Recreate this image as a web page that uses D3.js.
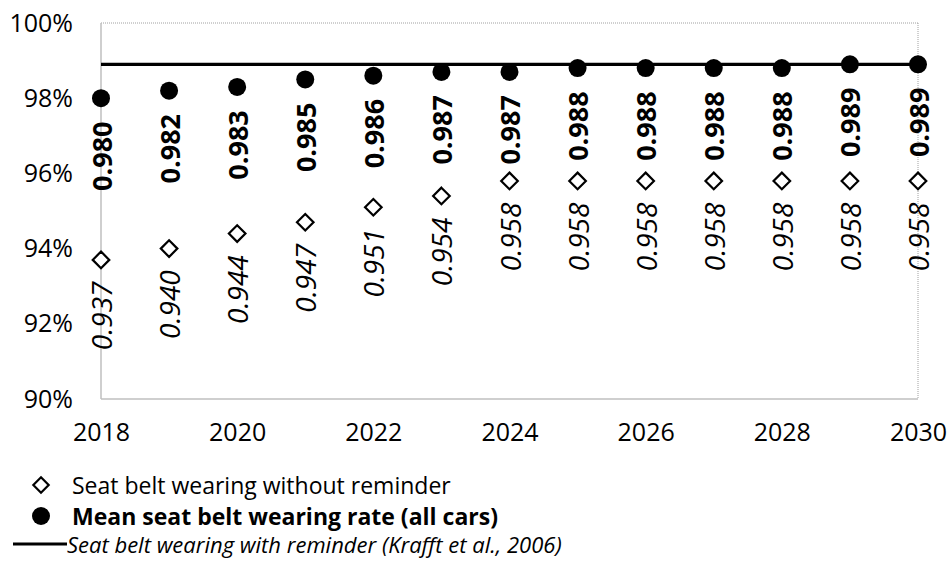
<!DOCTYPE html>
<html>
<head>
<meta charset="utf-8">
<script src="https://cdn.jsdelivr.net/npm/d3@7"></script>
<style>
  body { margin: 0; background: #fff; }
  text { font-family: "Open Sans", sans-serif; fill: #000; }
</style>
</head>
<body>
<div id="chart"></div>
<script>
var width = 949, height = 564;

var years = [2018, 2019, 2020, 2021, 2022, 2023, 2024, 2025, 2026, 2027, 2028, 2029, 2030];
var meanRate = [0.980, 0.982, 0.983, 0.985, 0.986, 0.987, 0.987, 0.988, 0.988, 0.988, 0.988, 0.989, 0.989];
var withoutReminder = [0.937, 0.940, 0.944, 0.947, 0.951, 0.954, 0.958, 0.958, 0.958, 0.958, 0.958, 0.958, 0.958];
var withReminder = 0.989;
var yTicks = [0.90, 0.92, 0.94, 0.96, 0.98, 1.00];
var xTicks = [2018, 2020, 2022, 2024, 2026, 2028, 2030];
var legendLabels = [
  "Seat belt wearing without reminder",
  "Mean seat belt wearing rate (all cars)",
  "Seat belt wearing with reminder (Krafft et al., 2006)"
];

var svg = d3.select("#chart")
  .append("svg")
  .attr("width", width)
  .attr("height", height);

var x = d3.scaleLinear().domain([2018, 2030]).range([101, 918]);
var y = d3.scaleLinear().domain([0.90, 1.00]).range([399, 23]);

// frame: dotted top/right, solid grey left/bottom
svg.append("line")
  .attr("x1", x(2018)).attr("x2", x(2030))
  .attr("y1", y(1)).attr("y2", y(1))
  .attr("stroke", "#a0a0a0").attr("stroke-dasharray", "1,1");
svg.append("line")
  .attr("x1", x(2030)).attr("x2", x(2030))
  .attr("y1", y(1)).attr("y2", y(0.9))
  .attr("stroke", "#a0a0a0").attr("stroke-dasharray", "1,1");
svg.append("line")
  .attr("x1", x(2018)).attr("x2", x(2018))
  .attr("y1", y(1)).attr("y2", y(0.9))
  .attr("stroke", "#bfbfbf").attr("stroke-width", 1.5);
svg.append("line")
  .attr("x1", x(2018)).attr("x2", x(2030))
  .attr("y1", y(0.9)).attr("y2", y(0.9))
  .attr("stroke", "#bfbfbf").attr("stroke-width", 1.5);

// y axis labels
var yAxis = d3.axisLeft(y).tickValues(yTicks).tickFormat(d3.format(".0%")).tickSize(0).tickPadding(28);
svg.append("g")
  .attr("transform", "translate(" + x(2018) + ",0)")
  .call(yAxis)
  .call(function(g) { g.select(".domain").remove(); })
  .selectAll("text")
  .style("font-family", "'Open Sans', sans-serif")
  .style("font-size", "25px")
  .attr("fill", "#000");

// x axis labels
var xAxis = d3.axisBottom(x).tickValues(xTicks).tickFormat(d3.format("d")).tickSize(0).tickPadding(24);
svg.append("g")
  .attr("transform", "translate(0," + y(0.9) + ")")
  .call(xAxis)
  .call(function(g) { g.select(".domain").remove(); })
  .selectAll("text")
  .style("font-family", "'Open Sans', sans-serif")
  .style("font-size", "25px")
  .attr("fill", "#000");

// reminder line
svg.append("line")
  .attr("x1", x(2018)).attr("x2", x(2030))
  .attr("y1", y(withReminder)).attr("y2", y(withReminder))
  .attr("stroke", "#000").attr("stroke-width", 3.3);

// without reminder diamonds
var diamond = d3.symbol().type(d3.symbolDiamond2).size(175);
svg.selectAll(".dia")
  .data(withoutReminder)
  .enter().append("path")
  .attr("class", "dia")
  .attr("d", diamond)
  .attr("transform", function(d, i) { return "translate(" + x(years[i]) + "," + y(d) + ")"; })
  .attr("fill", "#fff").attr("stroke", "#000").attr("stroke-width", 2.2);

svg.selectAll(".dialabel")
  .data(withoutReminder)
  .enter().append("text")
  .attr("class", "dialabel")
  .attr("transform", function(d, i) { return "translate(" + x(years[i]) + "," + (y(d) + 56) + ") rotate(-90)"; })
  .attr("text-anchor", "middle")
  .attr("dominant-baseline", "central")
  .style("font-size", "28px")
  .style("font-style", "italic")
  .text(function(d) { return d3.format(".3f")(d); });

// mean dots
svg.selectAll(".dot")
  .data(meanRate)
  .enter().append("circle")
  .attr("class", "dot")
  .attr("cx", function(d, i) { return x(years[i]); })
  .attr("cy", function(d) { return y(d); })
  .attr("r", 9)
  .attr("fill", "#000");

svg.selectAll(".dotlabel")
  .data(meanRate)
  .enter().append("text")
  .attr("class", "dotlabel")
  .attr("transform", function(d, i) { return "translate(" + x(years[i]) + "," + (y(d) + 58) + ") rotate(-90)"; })
  .attr("text-anchor", "middle")
  .attr("dominant-baseline", "central")
  .style("font-size", "27px")
  .style("font-weight", "bold")
  .text(function(d) { return d3.format(".3f")(d); });

// legend
var legendSizes = [23, 23, 22];
var legendY = [485, 516, 544];
var legend = svg.append("g");
legend.append("path")
  .attr("d", d3.symbol().type(d3.symbolDiamond2).size(150))
  .attr("transform", "translate(41," + legendY[0] + ")")
  .attr("fill", "#fff").attr("stroke", "#000").attr("stroke-width", 2.2);
legend.append("circle")
  .attr("cx", 41).attr("cy", legendY[1]).attr("r", 9).attr("fill", "#000");
legend.append("line")
  .attr("x1", 13).attr("x2", 67).attr("y1", legendY[2]).attr("y2", legendY[2])
  .attr("stroke", "#000").attr("stroke-width", 3);

legend.selectAll(".leg")
  .data(legendLabels)
  .enter().append("text")
  .attr("class", "leg")
  .attr("x", function(d, i) { return i < 2 ? 72 : 67; })
  .attr("y", function(d, i) { return legendY[i]; })
  .attr("dominant-baseline", "central")
  .style("font-size", function(d, i) { return legendSizes[i] + "px"; })
  .style("font-weight", function(d, i) { return i === 1 ? "bold" : "normal"; })
  .style("font-style", function(d, i) { return i === 2 ? "italic" : "normal"; })
  .text(function(d) { return d; });
</script>
</body>
</html>
